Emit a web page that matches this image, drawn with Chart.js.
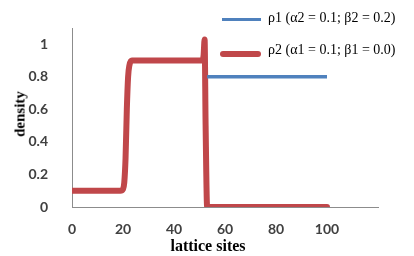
<!DOCTYPE html>
<html><head><meta charset="utf-8">
<script src="https://cdn.jsdelivr.net/npm/chart.js@4/dist/chart.umd.min.js"></script>
<style>
html,body{margin:0;padding:0;background:#fff;}
#wrap{position:relative;width:414px;height:256px;}
canvas{position:absolute;left:0;top:0;}
.t{position:absolute;font-family:"Liberation Serif","DejaVu Serif",serif;color:#000;white-space:nowrap;}
.lg{font-size:14px;line-height:16px;}
.sw{position:absolute;}
</style></head>
<body><div id="wrap"><canvas id="c" width="414" height="256"></canvas>
<div class="sw" style="left:222px;top:18px;width:39px;height:3px;background:#4f81bd;"></div>
<div class="t lg" style="left:268px;top:10px;">ρ1 (α2 = 0.1; β2 = 0.2)</div>
<div class="sw" style="left:220px;top:51px;width:41px;height:6px;border-radius:3px;background:#c0474a;"></div>
<div class="t lg" style="left:268px;top:42px;">ρ2 (α1 = 0.1; β1 = 0.0)</div>
<div class="t" style="left:20px;top:114px;transform:translate(-50%,-50%) rotate(-90deg);font-size:15px;font-weight:bold;">density</div>
<div class="t" style="left:208px;top:246px;transform:translate(-50%,-50%);font-size:16px;font-weight:bold;">lattice sites</div>
</div>
<script>
const seriesNames = ["ρ1 (α2 = 0.1; β2 = 0.2)", "ρ2 (α1 = 0.1; β1 = 0.0)"];
const rho1X = [53, 100];
const rho1Y = [0.8, 0.8];
const rho2X = [0, 19, 20, 20.5, 21, 21.5, 22, 22.5, 23.5, 51, 51.6, 52, 52.4, 53, 100];
const rho2Y = [0.1, 0.1, 0.11, 0.15, 0.3, 0.6, 0.8, 0.87, 0.9, 0.9, 0.93, 1.03, 0.5, 0.0, 0.0];
const xTicks = [0, 20, 40, 60, 80, 100];
const yTicks = [0, 0.2, 0.4, 0.6, 0.8, 1];

const pts = (xs, ys) => xs.map((x, i) => ({x: x, y: ys[i]}));
const tickFont = {family: "Lato, 'Open Sans', sans-serif", size: 14, weight: 'bold'};

new Chart(document.getElementById('c'), {
  type: 'line',
  data: {
    datasets: [
      {label: seriesNames[0], data: pts(rho1X, rho1Y), borderColor: '#4f81bd', borderWidth: 3.5, pointRadius: 0, tension: 0},
      {label: seriesNames[1], data: pts(rho2X, rho2Y), borderColor: '#c0474a', borderWidth: 6, pointRadius: 0,
       cubicInterpolationMode: 'monotone', borderCapStyle: 'round', borderJoinStyle: 'round'}
    ]
  },
  options: {
    responsive: false, animation: false,
    layout: {padding: {left: 0, right: 36, top: 28, bottom: 0}},
    plugins: {legend: {display: false}, tooltip: {enabled: false}},
    scales: {
      x: {
        type: 'linear', min: 0, max: 120,
        grid: {display: false},
        border: {display: true, color: '#8c8c8c', width: 1},
        ticks: {stepSize: 20, padding: 6, color: '#404040', font: tickFont, maxRotation: 0,
          callback: v => xTicks.includes(v) ? String(v) : null},
        afterFit: s => { s.height = 49; }
      },
      y: {
        min: 0, max: 1.1,
        grid: {display: false},
        border: {display: true, color: '#8c8c8c', width: 1},
        ticks: {stepSize: 0.2, padding: 16, color: '#404040', font: tickFont,
          callback: v => { const r = Math.round(v * 10) / 10; return yTicks.includes(r) && Math.abs(r - v) < 1e-6 ? String(r) : null; }},
        afterFit: s => { s.width = 72; }
      }
    }
  }
});
</script></body></html>
